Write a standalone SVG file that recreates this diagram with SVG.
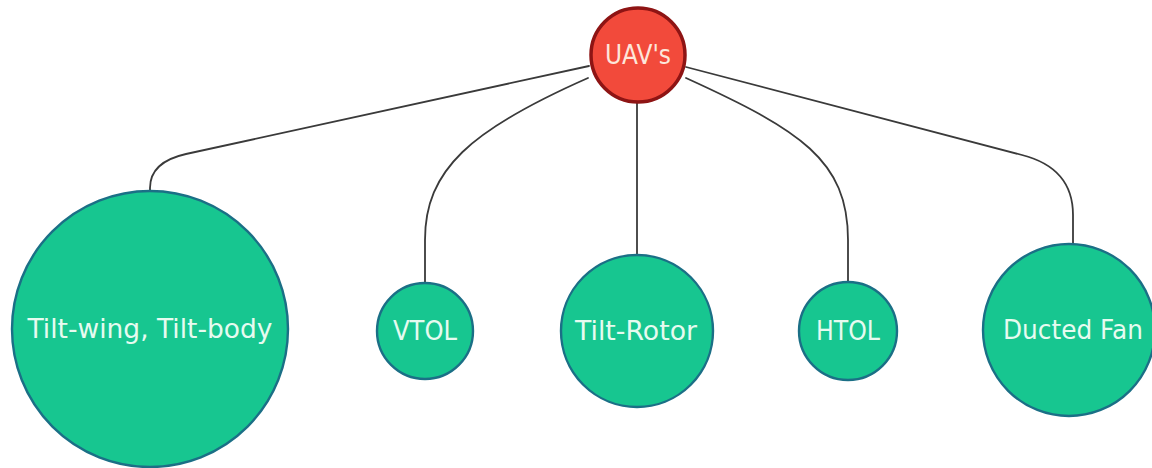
<svg xmlns="http://www.w3.org/2000/svg" width="1152" height="468" viewBox="0 0 1152 468">
  <style>
    .link { fill: none; stroke: #3a3a3a; stroke-width: 1.8; stroke-linecap: round; }
    .leaf circle { fill: #17c690; stroke: #1b6f86; stroke-width: 2.4; }
    .root circle { fill: #f24a3b; stroke: #8e1414; stroke-width: 3.5; }
    .label { font-family: "DejaVu Sans", "Liberation Sans", sans-serif; font-size: 26px; text-anchor: middle; }
    .leaf .label { fill: #e6fbf0; }
    .root .label { fill: #fde6da; }
  </style>
  <rect width="1152" height="468" fill="#ffffff"/>

  <!-- connectors from the root to each category -->
  <g id="connectors">
    <path class="link" d="M589,66 L186,154 Q150,162 150,188 L150,192"/>
    <path class="link" d="M588,78 C470,130 425,170 425,240 L425,283"/>
    <path class="link" d="M637,103 L637,255"/>
    <path class="link" d="M686,78 C800,130 848,160 848,240 L848,283"/>
    <path class="link" d="M686,67 L1022,155 Q1073,168 1073,215 L1073,245"/>
  </g>

  <g id="uavs" class="root">
    <circle cx="638" cy="55" r="47"/>
    <text class="label" x="638" y="64" textLength="66" lengthAdjust="spacingAndGlyphs">UAV's</text>
  </g>

  <g id="tilt-wing" class="leaf">
    <circle cx="150" cy="329" r="138"/>
    <text class="label" x="150" y="338" textLength="245" lengthAdjust="spacingAndGlyphs">Tilt-wing, Tilt-body</text>
  </g>

  <g id="vtol" class="leaf">
    <circle cx="425" cy="331" r="48"/>
    <text class="label" x="425" y="340" textLength="64" lengthAdjust="spacingAndGlyphs">VTOL</text>
  </g>

  <g id="tilt-rotor" class="leaf">
    <circle cx="637" cy="331" r="76"/>
    <text class="label" x="636" y="340" textLength="122" lengthAdjust="spacingAndGlyphs">Tilt-Rotor</text>
  </g>

  <g id="htol" class="leaf">
    <circle cx="848" cy="331" r="49"/>
    <text class="label" x="848" y="340" textLength="64" lengthAdjust="spacingAndGlyphs">HTOL</text>
  </g>

  <g id="ducted-fan" class="leaf">
    <circle cx="1069" cy="330" r="86"/>
    <text class="label" x="1073" y="339" textLength="140" lengthAdjust="spacingAndGlyphs">Ducted Fan</text>
  </g>
</svg>
